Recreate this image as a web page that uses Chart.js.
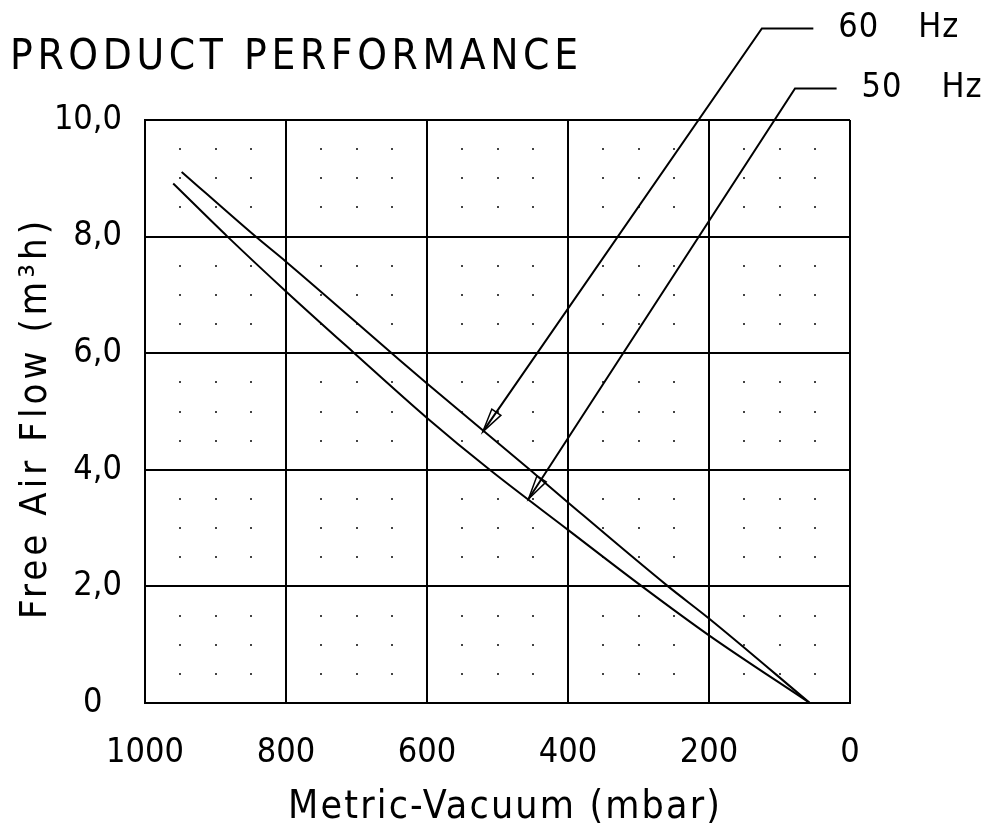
<!DOCTYPE html>
<html>
<head>
<meta charset="utf-8">
<script src="https://cdn.jsdelivr.net/npm/chart.js@4.4.1/dist/chart.umd.min.js"></script>
<style>
  html, body { margin: 0; padding: 0; background: #fff; }
  #wrap { width: 985px; height: 837px; position: relative; }
</style>
</head>
<body>
<div id="wrap"><canvas id="chart"></canvas></div>
<script>
// Pump curves (vacuum in mbar, flow in m3/h)
const vacuum60 = [948, 843, 800, 650, 600, 454, 400, 258, 200, 57];
const flow60   = [9.11, 8.0, 7.57, 6.0, 5.48, 4.0, 3.44, 2.0, 1.45, 0];
const vacuum50 = [960, 883, 800, 703, 600, 511, 400, 295, 200, 57];
const flow50   = [8.91, 8.0, 7.06, 6.0, 4.89, 4.0, 2.97, 2.0, 1.16, 0];

const xTicks = [1000, 800, 600, 400, 200, 0];
const yTicks = [0, 2, 4, 6, 8, 10];

// leader callouts: arrow tip on the curve, elbow, end of the horizontal stub
const calloutLabels = ['60 Hz', '50 Hz'];
const calloutTip   = [[521, 4.65], [456, 3.50]];
const calloutElbow = [[125, 11.57], [78, 10.54]];
const calloutEnd   = [52, 19];

const FONT = "'DejaVu Sans Condensed', 'DejaVu Sans', sans-serif";

function fitText(ctx, text, x, y, width, size, align) {
  ctx.font = size + 'px ' + FONT;
  ctx.letterSpacing = '0px';
  const w = ctx.measureText(text).width;
  const gap = (width - w) / Math.max(text.length - 1, 1);
  ctx.letterSpacing = gap + 'px';
  ctx.textAlign = 'left';
  ctx.textBaseline = 'middle';
  const x0 = align === 'center' ? x - width / 2 : x;
  ctx.fillText(text, x0, y);
  ctx.letterSpacing = '0px';
}

const decor = {
  id: 'decor',
  beforeDatasetsDraw(chart) {
    const { ctx, scales: { x, y } } = chart;
    ctx.save();
    ctx.fillStyle = '#444';
    for (let m = 50; m < 1000; m += 50) {
      if (m % 200 === 0) continue;
      for (let f = 0.5; f < 10; f += 0.5) {
        if (f % 2 === 0) continue;
        ctx.fillRect(Math.round(x.getPixelForValue(m)) - 1, Math.round(y.getPixelForValue(f)) - 1, 2, 2);
      }
    }
    ctx.restore();
  },
  afterDraw(chart) {
    const { ctx, scales: { x, y } } = chart;
    ctx.save();
    ctx.fillStyle = '#000';

    fitText(ctx, 'PRODUCT PERFORMANCE', 10, 58, 568, 42, 'left');
    fitText(ctx, 'Metric-Vacuum (mbar)', 504, 808, 432, 39, 'center');

    ctx.save();
    ctx.translate(36, 420);
    ctx.rotate(-Math.PI / 2);
    fitText(ctx, 'Free Air Flow (m\u00b3h)', 0, 0, 398, 38, 'center');
    ctx.restore();

    // callouts
    ctx.strokeStyle = '#000';
    ctx.lineWidth = 2;
    calloutLabels.forEach((lab, i) => {
      const tx = x.getPixelForValue(calloutTip[i][0]);
      const ty = y.getPixelForValue(calloutTip[i][1]);
      const ex = x.getPixelForValue(calloutElbow[i][0]);
      const ey = y.getPixelForValue(calloutElbow[i][1]);
      const hx = x.getPixelForValue(calloutEnd[i]);

      ctx.beginPath();
      ctx.moveTo(tx, ty);
      ctx.lineTo(ex, ey);
      ctx.lineTo(hx, ey);
      ctx.stroke();

      // open arrowhead
      const ang = Math.atan2(ey - ty, ex - tx);
      const len = 24, half = 5.5;
      const bx = tx + Math.cos(ang) * len, by = ty + Math.sin(ang) * len;
      const nx = -Math.sin(ang) * half, ny = Math.cos(ang) * half;
      ctx.lineWidth = 1.5;
      ctx.beginPath();
      ctx.moveTo(tx, ty);
      ctx.lineTo(bx + nx, by + ny);
      ctx.lineTo(bx - nx, by - ny);
      ctx.closePath();
      ctx.stroke();
      ctx.lineWidth = 2;

      ctx.font = '34px ' + FONT;
      ctx.letterSpacing = '1px';
      ctx.wordSpacing = '0px';
      const w = ctx.measureText(lab).width;
      ctx.wordSpacing = Math.max(0, 121 - w) + 'px';
      ctx.textAlign = 'left';
      ctx.textBaseline = 'middle';
      ctx.fillText(lab, hx + 25, ey);
      ctx.wordSpacing = '0px';
      ctx.letterSpacing = '0px';
    });
    ctx.restore();
  }
};

const lineStyle = {
  borderColor: '#000',
  borderWidth: 2,
  pointRadius: 0,
  fill: false,
  cubicInterpolationMode: 'monotone'
};

new Chart(document.getElementById('chart'), {
  type: 'line',
  data: {
    datasets: [
      Object.assign({ label: '60 Hz', data: vacuum60.map((v, i) => ({ x: v, y: flow60[i] })) }, lineStyle),
      Object.assign({ label: '50 Hz', data: vacuum50.map((v, i) => ({ x: v, y: flow50[i] })) }, lineStyle)
    ]
  },
  options: {
    responsive: true,
    maintainAspectRatio: false,
    animation: false,
    layout: { padding: { top: 120, right: 135, left: 0, bottom: 0 } },
    plugins: { legend: { display: false }, tooltip: { enabled: false } },
    scales: {
      x: {
        type: 'linear',
        reverse: true,
        min: 0,
        max: 1000,
        afterFit(s) { s.height = 134; },
        afterBuildTicks(s) { s.ticks = xTicks.map(v => ({ value: v })); },
        ticks: { padding: 30, color: '#000', font: { family: FONT, size: 34 }, maxRotation: 0, callback: v => String(v) },
        grid: { color: '#000', lineWidth: 2, drawTicks: false },
        border: { color: '#000', width: 2 }
      },
      y: {
        type: 'linear',
        min: 0,
        max: 10,
        afterFit(s) { s.width = 145; },
        afterBuildTicks(s) { s.ticks = yTicks.map(v => ({ value: v })); },
        ticks: {
          padding: 23,
          color: '#000',
          font: { family: FONT, size: 34 },
          callback: v => v === 0 ? '0  ' : v.toFixed(1).replace('.', ',')
        },
        grid: { color: '#000', lineWidth: 2, drawTicks: false },
        border: { color: '#000', width: 2 }
      }
    }
  },
  plugins: [decor]
});
</script>
</body>
</html>
